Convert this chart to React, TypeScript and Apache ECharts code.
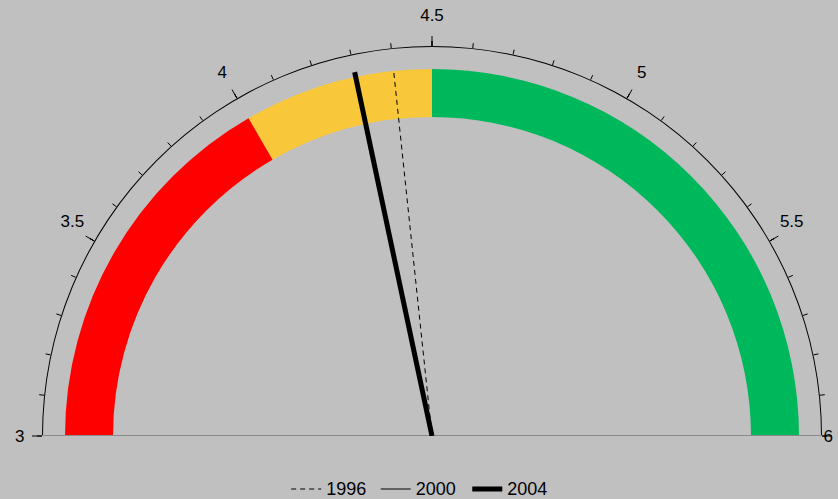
import React, { useEffect, useRef } from "react";
import * as echarts from "echarts";

const bandStops = [3, 4, 4.5, 6];
const bandColors = ["#FF0000", "#F9C83A", "#00B85C"];
const years = ["1996", "2000", "2004"];
const needleValues = [4.4, 4.3, 4.3];
const axisMin = 3;
const axisMax = 6;
const tickLabels = ["3", "3.5", "4", "4.5", "5", "5.5", "6"];

const FONT = "'Liberation Sans Narrow', 'Liberation Sans', Arial, sans-serif";

export default function App() {
  const ref = useRef<HTMLDivElement>(null);
  useEffect(() => {
    if (!ref.current) return;
    const chart = echarts.init(ref.current, null, { renderer: "svg" });
    const span = axisMax - axisMin;
    const colorStops = bandStops.slice(1).map((s, i) => [
      (s - axisMin) / span,
      bandColors[i],
    ]);
    const cx = 432;
    const cy = 436;
    const needleStyles: any[] = [
      { type: [5, 4], width: 1, len: 366 },
      { type: "solid", width: 1, len: 370 },
      { type: "solid", width: 5, len: 372 },
    ];
    chart.setOption({
      animation: false,
      backgroundColor: "#C0C0C0",
      polar: { center: [cx, cy], radius: 390 },
      angleAxis: {
        type: "value",
        min: axisMin,
        max: axisMax,
        startAngle: 180,
        endAngle: 0,
        clockwise: true,
        show: false,
        axisLine: { show: false },
        axisTick: { show: false },
        axisLabel: { show: false },
        splitLine: { show: false },
      },
      radiusAxis: {
        type: "value",
        min: 0,
        max: 390,
        show: false,
        axisLine: { show: false },
        axisTick: { show: false },
        axisLabel: { show: false },
        splitLine: { show: false },
      },
      legend: {
        data: years.map((y, i) => ({
          name: y,
          itemStyle: { opacity: 0 },
          lineStyle: {
            color: "#000",
            width: needleStyles[i].width,
            type: needleStyles[i].type,
            opacity: 1,
          },
        })),
        bottom: 1,
        left: "center",
        padding: 0,
        itemWidth: 30,
        itemHeight: 14,
        itemGap: 14,
        textStyle: { fontFamily: FONT, fontSize: 18, color: "#000" },
      },
      series: [
        {
          type: "gauge",
          center: [cx, cy],
          radius: 367,
          startAngle: 180,
          endAngle: 0,
          min: axisMin,
          max: axisMax,
          axisLine: { lineStyle: { width: 48, color: colorStops } },
          axisTick: { show: false },
          splitLine: { show: false },
          axisLabel: { show: false },
          pointer: { show: false },
          anchor: { show: false },
          title: { show: false },
          detail: { show: false },
          data: [],
          z: 1,
        },
        {
          type: "gauge",
          center: [cx, cy],
          radius: 390,
          startAngle: 180,
          endAngle: 0,
          min: axisMin,
          max: axisMax,
          splitNumber: tickLabels.length - 1,
          axisLine: { lineStyle: { width: 1, color: [[1, "#000"]] } },
          splitLine: {
            show: true,
            length: 10,
            distance: -11,
            lineStyle: { color: "#000", width: 1 },
          },
          axisTick: {
            show: true,
            splitNumber: 5,
            length: 5,
            distance: -6,
            lineStyle: { color: "#000", width: 1 },
          },
          axisLabel: {
            show: true,
            distance: -38,
            color: "#000",
            fontFamily: FONT,
            fontSize: 17,
            formatter: (v: number) => {
              const i = Math.round(((v - axisMin) / span) * (tickLabels.length - 1));
              if (i === 0) return "{first|" + tickLabels[i] + "}";
              if (i === tickLabels.length - 1) return "{last|" + tickLabels[i] + "}";
              return tickLabels[i];
            },
            rich: {
              first: { fontFamily: FONT, fontSize: 17, color: "#000", padding: [0, 0, 0, 12] },
              last: { fontFamily: FONT, fontSize: 17, color: "#000", padding: [0, 28, 0, 0] },
            },
          },
          pointer: { show: false },
          anchor: { show: false },
          title: { show: false },
          detail: { show: false },
          data: [],
          z: 2,
        },
        {
          type: "line",
          coordinateSystem: "polar",
          symbol: "none",
          silent: true,
          lineStyle: { color: "#8A8A8A", width: 2 },
          data: [
            [390, axisMin],
            [390, axisMax],
          ],
          z: 3,
        },
        ...years.map((y, i) => ({
          name: y,
          type: "line",
          coordinateSystem: "polar",
          symbol: "none",
          color: "#000",
          lineStyle: {
            color: "#000",
            width: needleStyles[i].width,
            type: needleStyles[i].type,
          },
          data: [
            [0, needleValues[i]],
            [needleStyles[i].len, needleValues[i]],
          ],
          z: 4 + i,
        })),
      ],
    });
    return () => chart.dispose();
  }, []);
  return (
    <div
      ref={ref}
      style={{ position: "fixed", left: 0, top: 0, width: 838, height: 499 }}
    />
  );
}
